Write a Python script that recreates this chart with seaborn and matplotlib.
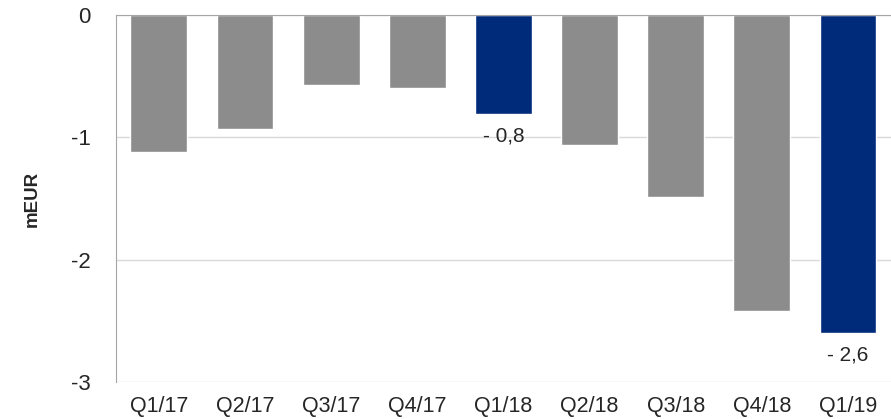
import matplotlib
import matplotlib.pyplot as plt
import pandas as pd
import seaborn as sns

matplotlib.use("Agg")

quarters = ["Q1/17", "Q2/17", "Q3/17", "Q4/17", "Q1/18", "Q2/18", "Q3/18", "Q4/18", "Q1/19"]
values = [-1.12, -0.93, -0.57, -0.60, -0.81, -1.06, -1.49, -2.42, -2.60]
highlight = ["no", "no", "no", "no", "yes", "no", "no", "no", "yes"]
labels = {"Q1/18": "- 0,8", "Q1/19": "- 2,6"}

GREY = "#8c8c8c"
NAVY = "#002a7a"


def main() -> None:
    sns.set_style("white")
    plt.rcParams["font.family"] = ["Liberation Sans", "DejaVu Sans"]

    df = pd.DataFrame({"quarter": quarters, "value": values, "hl": highlight})
    fig = plt.figure(figsize=(8.91, 4.19), dpi=100)
    ax = fig.add_axes([0.130, 0.088, 0.870, 0.876])
    sns.barplot(
        data=df, x="quarter", y="value", hue="hl", palette={"no": GREY, "yes": NAVY},
        order=quarters, dodge=False, width=0.66, legend=False, ax=ax, saturation=1,
    )
    ax.set_ylim(-3, 0)
    ax.set_yticks([0, -1, -2, -3])
    ax.set_yticklabels(["0", "-1", "-2", "-3"])
    ax.yaxis.grid(True, color="#d9d9d9", linewidth=1)
    ax.set_axisbelow(True)
    for side in ["right", "bottom"]:
        ax.spines[side].set_visible(False)
    ax.spines["top"].set_color("#a6a6a6")
    ax.spines["left"].set_color("#a6a6a6")
    ax.tick_params(axis="y", length=0, pad=18, labelsize=16)
    ax.tick_params(axis="x", length=0, pad=10, labelsize=15.5)
    ax.set_xlabel("")
    ax.set_ylabel("mEUR", fontsize=13.5, fontweight="bold", labelpad=22)

    for i, q in enumerate(quarters):
        if q in labels:
            ax.text(i, values[i] - 0.18, labels[q], ha="center", va="center", fontsize=15)

    fig.savefig("out.png", dpi=100)
    plt.close(fig)


if __name__ == "__main__":
    main()
